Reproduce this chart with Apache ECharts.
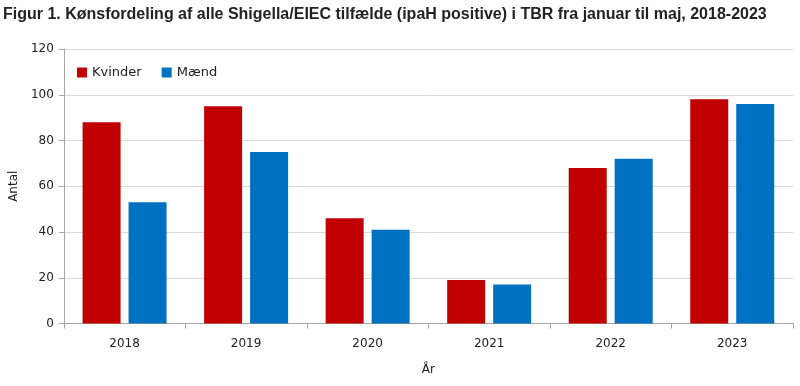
<!DOCTYPE html>
<html><head><meta charset="utf-8">
<script src="https://cdn.jsdelivr.net/npm/echarts@6/dist/echarts.min.js"></script>
<style>html,body{margin:0;padding:0;background:#fff}#c{width:800px;height:386px}</style>
</head><body><div id="c"></div>
<script>
const categories = ['2018','2019','2020','2021','2022','2023'];
const kvinder = [88, 95, 46, 19, 68, 98];
const maend = [53, 75, 41, 17, 72, 96];
const yTicks = [0, 20, 40, 60, 80, 100, 120];

const font = 'DejaVu Sans';
const chart = echarts.init(document.getElementById('c'), null, {renderer:'canvas'});
chart.setOption({
  animation: false,
  title: {
    text: 'Figur 1. Kønsfordeling af alle Shigella/EIEC tilfælde (ipaH positive) i TBR fra januar til maj, 2018-2023',
    left: 3, top: 7, padding: 0,
    textStyle: {fontFamily: 'Liberation Sans', fontWeight: 'bold', fontSize: 16, color: '#222'}
  },
  legend: {
    left: 72, top: 61, itemWidth: 10, itemHeight: 10, itemGap: 20,
    icon: 'rect',
    textStyle: {fontFamily: font, fontSize: 13, color: '#222'},
    data: ['Kvinder', 'Mænd']
  },
  grid: {left: 63, right: 7, top: 49, bottom: 62.5, containLabel: false},
  xAxis: {
    type: 'category', data: categories,
    name: 'År', nameLocation: 'middle', nameGap: 40,
    nameTextStyle: {fontFamily: font, fontSize: 12, color: '#222'},
    axisLine: {lineStyle: {color: '#a6a6a6'}},
    axisTick: {show: true, length: 5, lineStyle: {color: '#a6a6a6'}},
    axisLabel: {fontFamily: font, fontSize: 12, color: '#222', margin: 14}
  },
  yAxis: {
    type: 'value', min: yTicks[0], max: yTicks[yTicks.length-1], interval: 20,
    name: 'Antal', nameLocation: 'middle', nameGap: 40, nameRotate: 90,
    nameTextStyle: {fontFamily: font, fontSize: 12, color: '#222'},
    axisLine: {show: true, lineStyle: {color: '#a6a6a6'}},
    axisTick: {show: true, length: 5, lineStyle: {color: '#a6a6a6'}},
    axisLabel: {fontFamily: font, fontSize: 12, color: '#222', margin: 10},
    splitLine: {lineStyle: {color: '#d9d9d9'}}
  },
  series: [
    {name: 'Kvinder', type: 'bar', data: kvinder, barWidth: 38, barGap: '21%', itemStyle: {color: '#c00000'}},
    {name: 'Mænd', type: 'bar', data: maend, barWidth: 38, itemStyle: {color: '#0070c0'}}
  ]
});
</script></body></html>
